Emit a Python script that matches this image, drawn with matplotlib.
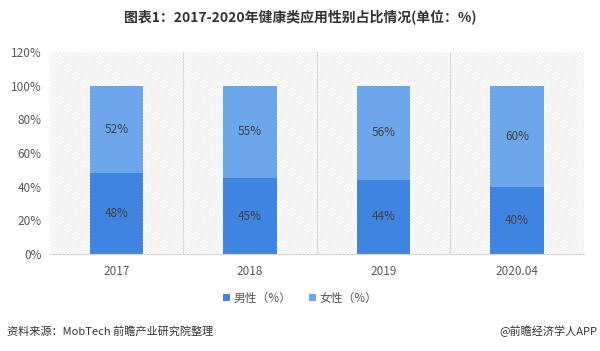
import matplotlib
matplotlib.use("Agg")
import matplotlib.pyplot as plt
from matplotlib.patches import Rectangle
import numpy as np

plt.rcParams['font.family'] = ['Noto Sans CJK SC', 'DejaVu Sans']
plt.rcParams['hatch.linewidth'] = 0.5

years = ['2017', '2018', '2019', '2020.04']
male = [48, 45, 44, 40]
female = [52, 55, 56, 60]
yticks = [0, 20, 40, 60, 80, 100, 120]

c_male = '#3f84e0'
c_female = '#6ea6ec'
txt = '#595959'

fig = plt.figure(figsize=(6, 3.51), dpi=100)
ax = fig.add_axes([0.0833, 0.2764, 0.8897, 0.5755])

# hatched background like the original
bg = Rectangle((0, 0), 1, 1, transform=ax.transAxes, facecolor='white',
               edgecolor='#e4e4e4', hatch='\\' * 10, linewidth=0, zorder=0)
ax.add_patch(bg)

x = np.arange(len(years))
w = 0.4
ax.bar(x, male, w, color=c_male, label='男性（%）', zorder=2)
ax.bar(x, female, w, bottom=male, color=c_female, label='女性（%）', zorder=2)

for i in range(len(years)):
    ax.text(x[i], male[i] / 2, f'{male[i]}%', ha='center', va='center',
            fontsize=8.5, color='#404040', zorder=3)
    ax.text(x[i], male[i] + female[i] / 2, f'{female[i]}%', ha='center',
            va='center', fontsize=8.5, color='#404040', zorder=3)

for b in [0.5, 1.5, 2.5, 3.5]:
    ax.axvline(b, color='#d9d9d9', linewidth=0.8, zorder=1)

ax.set_xlim(-0.5, 3.5)
ax.set_ylim(0, 120)
ax.set_yticks(yticks)
ax.set_yticklabels([f'{v}%' for v in yticks])
ax.set_xticks(x)
ax.set_xticklabels(years)
ax.tick_params(axis='both', length=0, labelsize=8.5, labelcolor=txt)
ax.tick_params(axis='x', pad=8)
ax.tick_params(axis='y', pad=6)
for s in ['top', 'right', 'left']:
    ax.spines[s].set_visible(False)
ax.spines['bottom'].set_color('#d9d9d9')

fig.legend(loc='center', bbox_to_anchor=(0.5, 0.151), ncol=2, frameon=False,
           fontsize=8.5, handlelength=0.6, handleheight=0.6, handletextpad=0.3,
           columnspacing=1.5, labelcolor=txt)

fig.text(0.5, 0.952, '图表1：2017-2020年健康类应用性别占比情况(单位：%)',
         ha='center', va='center', fontsize=10, fontweight='bold', color='#333333')
fig.text(0.012, 0.057, '资料来源：MobTech 前瞻产业研究院整理', ha='left', va='center',
         fontsize=8, color='#333333')
fig.text(0.995, 0.057, '@前瞻经济学人APP', ha='right', va='center',
         fontsize=8, color='#333333')

fig.savefig('out.png', dpi=100)
